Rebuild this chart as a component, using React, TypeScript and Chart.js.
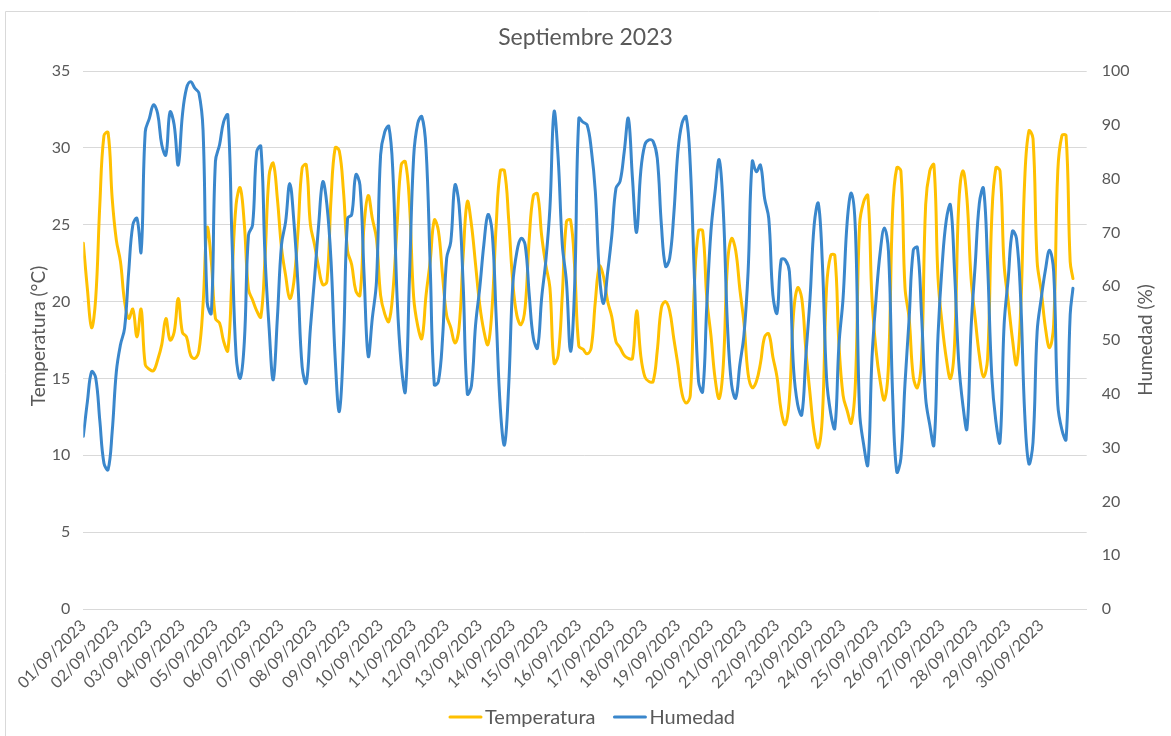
import React, { useEffect, useRef } from 'react';
import { Chart, registerables } from 'chart.js';

Chart.register(...registerables);

const FONT = 'Lato, "Noto Sans", sans-serif';
const TEXT_COLOR = '#595959';
const GRID_COLOR = '#D9D9D9';

const chartTitle = 'Septiembre 2023';
const tempTitle = 'Temperatura (°C)';
const humTitle = 'Humedad (%)';

// Tick labels (one per day, at hour 0 of each day)
const dayLabels = [
  '01/09/2023', '02/09/2023', '03/09/2023', '04/09/2023', '05/09/2023', '06/09/2023',
  '07/09/2023', '08/09/2023', '09/09/2023', '10/09/2023', '11/09/2023', '12/09/2023',
  '13/09/2023', '14/09/2023', '15/09/2023', '16/09/2023', '17/09/2023', '18/09/2023',
  '19/09/2023', '20/09/2023', '21/09/2023', '22/09/2023', '23/09/2023', '24/09/2023',
  '25/09/2023', '26/09/2023', '27/09/2023', '28/09/2023', '29/09/2023', '30/09/2023',
];

// Sample times in hours since 01/09/2023 00:00 (every 3 h, plus the last reading)
const sampleHours: number[] = Array.from({ length: 240 }, (_, k) => k * 3).concat([719]);

// Temperature (°C)
const temperatura = [
  23.8, 20.8, 18.3, 20.2, 26.3, 30.8, 31.0, 26.7, 24.0, 22.6,
  20.0, 18.9, 19.5, 17.7, 19.5, 15.9, 15.6, 15.5, 16.2, 17.2,
  18.9, 17.5, 18.0, 20.2, 18.0, 17.7, 16.5, 16.3, 16.8, 19.8,
  24.8, 22.6, 18.9, 18.6, 17.4, 16.8, 21.5, 26.3, 27.4, 25.0,
  20.8, 20.1, 19.4, 19.0, 22.8, 28.2, 29.0, 26.7, 23.5, 21.7,
  20.2, 21.3, 24.6, 28.7, 28.9, 25.0, 23.7, 22.2, 21.1, 21.3,
  26.7, 30.0, 29.8, 27.2, 23.3, 22.4, 20.7, 20.4, 25.0, 26.9,
  25.4, 24.1, 20.4, 19.2, 18.7, 20.7, 25.0, 28.9, 29.1, 26.3,
  20.3, 18.4, 17.6, 20.4, 22.6, 25.3, 24.6, 21.7, 19.1, 18.3,
  17.3, 18.3, 23.0, 26.5, 25.0, 22.4, 19.8, 18.1, 17.2, 19.6,
  25.0, 28.5, 28.5, 25.4, 21.3, 19.1, 18.5, 19.6, 24.1, 26.9,
  27.0, 24.3, 22.4, 20.9, 16.0, 16.5, 20.4, 25.2, 25.3, 22.2,
  17.1, 16.9, 16.6, 17.0, 20.0, 22.3, 21.6, 20.0, 19.0, 17.4,
  17.0, 16.5, 16.3, 16.3, 19.4, 16.5, 15.1, 14.8, 14.8, 16.8,
  19.6, 20.0, 19.4, 17.6, 15.9, 14.0, 13.4, 13.9, 21.1, 24.6,
  24.6, 20.2, 17.8, 15.0, 13.7, 15.9, 22.4, 24.1, 23.3, 20.8,
  18.6, 15.3, 14.4, 14.8, 16.0, 17.7, 17.9, 16.4, 15.1, 12.9,
  12.0, 13.7, 19.2, 20.9, 20.2, 16.8, 14.0, 11.5, 10.5, 12.6,
  20.9, 23.0, 23.0, 17.2, 13.9, 12.9, 12.1, 14.8, 25.0, 26.5,
  26.9, 20.2, 16.8, 14.8, 13.6, 15.9, 25.9, 28.7, 28.5, 20.9,
  18.9, 15.1, 14.4, 16.3, 26.3, 28.5, 28.9, 21.5, 18.5, 16.3,
  15.0, 17.2, 26.3, 28.5, 26.7, 21.5, 18.9, 16.5, 15.1, 16.3,
  25.4, 28.7, 28.5, 22.4, 20.0, 17.6, 15.9, 19.4, 28.0, 31.1,
  30.6, 22.6, 20.7, 18.3, 17.0, 18.5, 28.5, 30.8, 30.8, 22.6,
  21.5,
];

// Relative humidity (%)
const humedad = [
  32.1, 38.6, 44.1, 43.0, 35.0, 27.1, 25.9, 33.0, 44.1, 49.1,
  52.2, 62.7, 71.4, 72.6, 66.4, 88.7, 91.2, 93.7, 92.1, 86.3,
  84.4, 92.4, 90.0, 82.5, 91.8, 96.8, 98.0, 96.8, 95.9, 89.0,
  57.0, 55.0, 83.2, 86.3, 90.6, 91.8, 68.9, 47.2, 42.9, 49.7,
  69.5, 71.4, 85.0, 86.0, 65.8, 52.2, 42.6, 54.1, 67.7, 72.0,
  79.1, 72.0, 60.2, 45.0, 42.0, 52.2, 61.5, 71.4, 79.4, 75.1,
  64.6, 46.6, 36.7, 49.1, 72.6, 73.3, 80.7, 78.8, 62.1, 47.0,
  54.1, 60.9, 84.4, 88.7, 89.7, 80.7, 57.8, 45.4, 40.4, 62.0,
  84.0, 90.3, 91.5, 85.6, 64.0, 41.7, 42.3, 50.3, 65.2, 68.3,
  78.8, 75.1, 60.2, 40.0, 41.5, 52.8, 59.6, 67.7, 73.3, 70.2,
  54.1, 37.3, 30.5, 41.1, 60.2, 66.4, 68.9, 67.7, 58.4, 50.3,
  48.5, 57.8, 64.6, 74.5, 92.4, 83.8, 67.7, 60.9, 47.9, 60.2,
  91.2, 90.5, 90.0, 85.6, 77.6, 62.1, 56.8, 62.7, 69.5, 78.2,
  79.5, 85.0, 91.2, 80.0, 70.0, 81.3, 86.3, 87.2, 86.9, 83.8,
  71.4, 63.7, 65.2, 73.3, 85.0, 90.3, 91.5, 82.5, 61.5, 42.3,
  40.4, 56.5, 70.2, 77.6, 83.5, 73.9, 52.8, 41.7, 39.2, 45.4,
  51.0, 62.7, 83.2, 81.3, 82.5, 76.3, 72.6, 58.4, 55.0, 64.9,
  64.9, 62.7, 44.8, 38.0, 36.1, 47.2, 57.8, 71.4, 75.4, 64.0,
  42.9, 36.4, 33.6, 49.1, 57.8, 72.0, 77.3, 70.2, 36.7, 30.5,
  26.8, 46.6, 57.8, 66.4, 70.8, 66.4, 39.8, 25.5, 28.0, 42.0,
  54.0, 66.7, 67.2, 54.7, 39.2, 34.2, 30.5, 51.0, 64.0, 72.3,
  75.1, 62.7, 46.0, 38.0, 33.5, 52.2, 64.0, 75.4, 78.2, 64.0,
  43.5, 34.9, 31.0, 52.8, 61.5, 70.2, 68.9, 57.8, 36.1, 27.0,
  31.0, 51.6, 57.8, 63.0, 66.7, 62.7, 38.0, 33.3, 31.5, 54.7,
  59.6,
];

const frameLines = {
  id: 'frameLines',
  beforeDraw(chart: any) {
    const ctx = chart.ctx;
    ctx.save();
    ctx.fillStyle = '#FFFFFF';
    ctx.fillRect(0, 0, chart.width, chart.height);
    ctx.strokeStyle = GRID_COLOR;
    ctx.lineWidth = 1;
    ctx.beginPath();
    ctx.moveTo(5.5, chart.height);
    ctx.lineTo(5.5, 11.5);
    ctx.lineTo(chart.width, 11.5);
    ctx.stroke();
    ctx.restore();
  },
};

const axisTitles = {
  id: 'axisTitles',
  afterDraw(chart: any) {
    const ctx = chart.ctx;
    const area = chart.chartArea;
    const cy = (area.top + area.bottom) / 2;
    ctx.save();
    ctx.fillStyle = TEXT_COLOR;
    ctx.font = `19px ${FONT}`;
    ctx.textAlign = 'center';
    ctx.textBaseline = 'middle';
    ctx.save();
    ctx.translate(39, cy - 4);
    ctx.rotate(-Math.PI / 2);
    ctx.fillText(tempTitle, 0, 0);
    ctx.restore();
    ctx.save();
    ctx.translate(1146, cy);
    ctx.rotate(-Math.PI / 2);
    ctx.fillText(humTitle, 0, 0);
    ctx.restore();
    ctx.restore();
  },
};

const lineLegend = {
  id: 'lineLegend',
  afterDraw(chart: any) {
    const ctx = chart.ctx;
    const items = chart.data.datasets.map((d: any) => ({ label: d.label, color: d.borderColor }));
    ctx.save();
    ctx.font = `20px ${FONT}`;
    const lineW = 33;
    const gapText = 3;
    const gapItem = 18;
    const widths = items.map((it: any) => lineW + gapText + ctx.measureText(it.label).width);
    const total = widths.reduce((a: number, b: number) => a + b, 0) + gapItem * (items.length - 1);
    let x = 592 - total / 2;
    const y = 717;
    items.forEach((it: any, i: number) => {
      ctx.strokeStyle = it.color;
      ctx.lineWidth = 3;
      ctx.lineCap = 'round';
      ctx.beginPath();
      ctx.moveTo(x + 1, y);
      ctx.lineTo(x + lineW - 1, y);
      ctx.stroke();
      ctx.fillStyle = TEXT_COLOR;
      ctx.textAlign = 'left';
      ctx.textBaseline = 'middle';
      ctx.fillText(it.label, x + lineW + gapText, y + 1);
      x += widths[i] + gapItem;
    });
    ctx.restore();
  },
};

export default function App() {
  const canvasRef = useRef<HTMLCanvasElement | null>(null);

  useEffect(() => {
    document.body.style.margin = '0';
    const canvas = canvasRef.current;
    if (!canvas) return;
    const tickFont = { family: FONT, size: 16 };

    const chart = new Chart(canvas, {
      type: 'line',
      data: {
        datasets: [
          {
            label: 'Temperatura',
            data: sampleHours.map((h, k) => ({ x: h, y: temperatura[k] })),
            borderColor: '#FFC000',
            backgroundColor: '#FFC000',
            borderWidth: 3,
            pointRadius: 0,
            tension: 0.4,
            borderCapStyle: 'round',
            borderJoinStyle: 'round',
            yAxisID: 'y',
            order: 2,
          },
          {
            label: 'Humedad',
            data: sampleHours.map((h, k) => ({ x: h, y: humedad[k] })),
            borderColor: '#3A87CC',
            backgroundColor: '#3A87CC',
            borderWidth: 3,
            pointRadius: 0,
            tension: 0.4,
            borderCapStyle: 'round',
            borderJoinStyle: 'round',
            yAxisID: 'y1',
            order: 1,
          },
        ],
      },
      options: {
        responsive: false,
        animation: false,
        devicePixelRatio: 1,
        layout: { padding: { left: 0, right: 0, top: 0, bottom: 39 } },
        plugins: {
          legend: { display: false },
          tooltip: { enabled: false },
          title: {
            display: true,
            text: chartTitle,
            color: TEXT_COLOR,
            font: { family: FONT, size: 23, weight: 'normal' },
            padding: { top: 24, bottom: 19.4 },
          },
        },
        scales: {
          x: {
            type: 'linear',
            min: 0,
            max: 729,
            grid: { display: false, drawTicks: false },
            border: { display: true, color: GRID_COLOR },
            ticks: {
              autoSkip: false,
              maxRotation: 45,
              minRotation: 45,
              padding: 7,
              color: TEXT_COLOR,
              font: tickFont,
              callback: (v: any) => dayLabels[Math.round(Number(v) / 24)] ?? '',
            },
            afterBuildTicks: (s: any) => {
              s.ticks = dayLabels.map((_, i) => ({ value: i * 24 }));
            },
            afterFit: (s: any) => {
              s.height = 88;
            },
          },
          y: {
            position: 'left',
            min: 0,
            max: 35,
            ticks: { stepSize: 5, padding: 13, color: TEXT_COLOR, font: tickFont },
            grid: { color: GRID_COLOR, drawTicks: false, lineWidth: 1 },
            border: { display: false },
            afterFit: (s: any) => {
              s.width = 83.3;
            },
          },
          y1: {
            position: 'right',
            min: 0,
            max: 100,
            ticks: { stepSize: 10, padding: 15, color: TEXT_COLOR, font: tickFont },
            grid: { drawOnChartArea: false, drawTicks: false },
            border: { display: false },
            afterFit: (s: any) => {
              s.width = 84.3;
            },
          },
        },
      } as any,
      plugins: [frameLines, axisTitles, lineLegend],
    });

    return () => {
      chart.destroy();
    };
  }, []);

  return (
    <div style={{ position: 'fixed', left: 0, top: 0, width: 1171, height: 736, background: '#FFFFFF' }}>
      <canvas ref={canvasRef} width={1171} height={736} style={{ display: 'block', width: 1171, height: 736 }} />
    </div>
  );
}
